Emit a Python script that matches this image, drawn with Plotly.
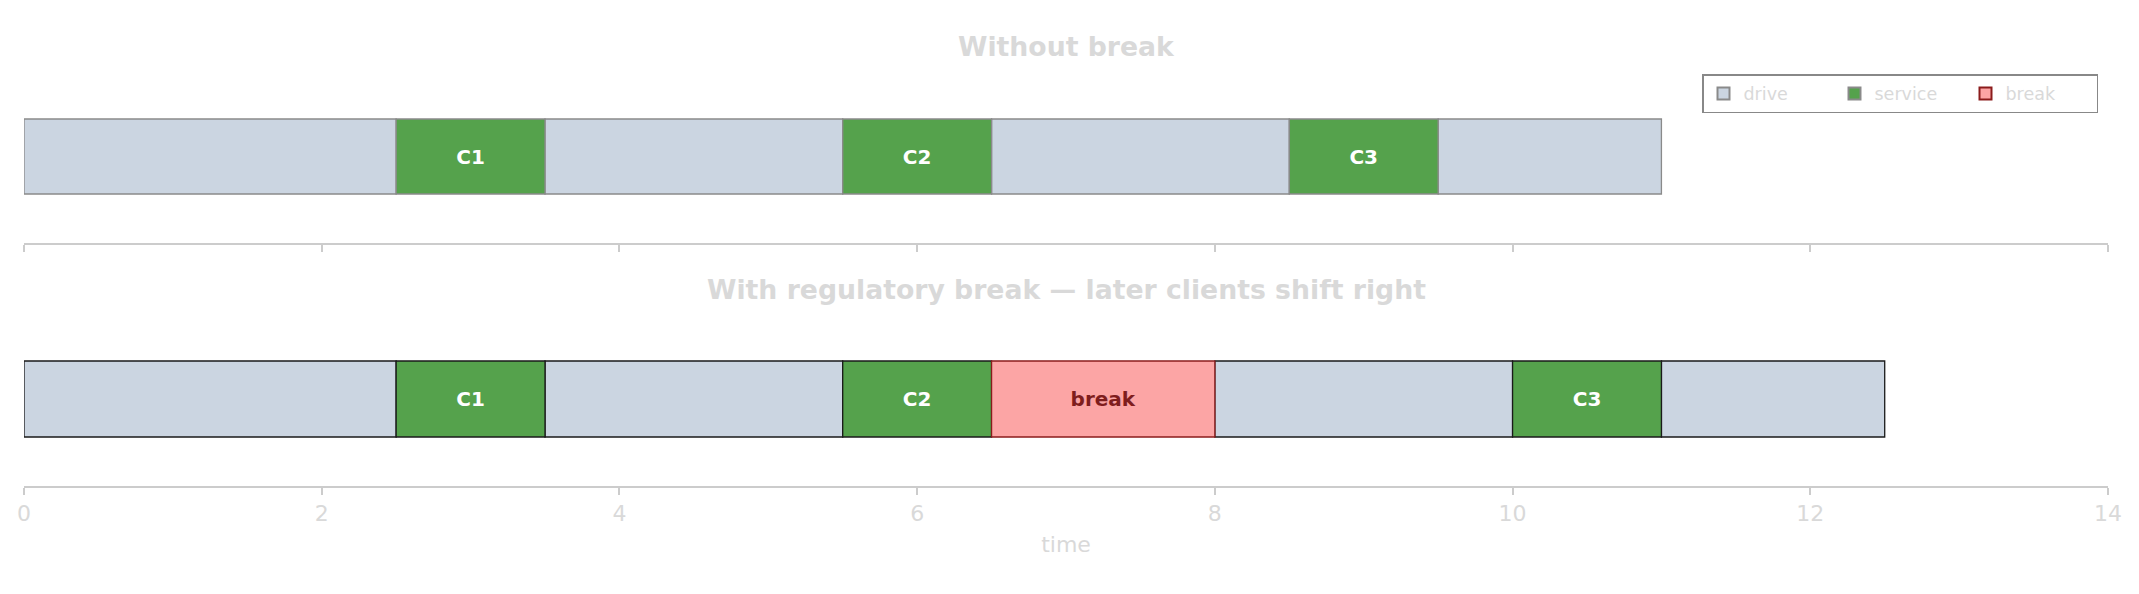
import plotly.graph_objects as go

# ---- data ----
top_kind = ["drive", "service", "drive", "service", "drive", "service", "drive"]
top_start = [0, 2.5, 3.5, 5.5, 6.5, 8.5, 9.5]
top_end = [2.5, 3.5, 5.5, 6.5, 8.5, 9.5, 11]
top_label = ["", "C1", "", "C2", "", "C3", ""]

bot_kind = ["drive", "service", "drive", "service", "break", "drive", "service", "drive"]
bot_start = [0, 2.5, 3.5, 5.5, 6.5, 8, 10, 11]
bot_end = [2.5, 3.5, 5.5, 6.5, 8, 10, 11, 12.5]
bot_label = ["", "C1", "", "C2", "break", "", "C3", ""]

x_ticks = [0, 2, 4, 6, 8, 10, 12, 14]
titles = ["Without break", "With regulatory break — later clients shift right"]

# ---- styles ----
FILL = {"drive": "#cbd5e1", "service": "#55a24c", "break": "#fca5a5"}
TXT = {"drive": "white", "service": "white", "break": "#7f1d1d"}
OFF = 8  # default body margin of the html page
W, H = 2139 - 2 * OFF, 594 - 2 * OFF
FONT = "DejaVu Sans"
GREY_TXT = "#d9d9d9"
AXIS_C = "#cccccc"


def py(px):
    return 1 - (px - OFF) / H


fig = go.Figure()


def add_panel(kinds, starts, ends, labels, xaxis, yaxis, edge):
    for k in ["drive", "service", "break"]:
        idx = [i for i, kk in enumerate(kinds) if kk == k]
        if not idx:
            continue
        fig.add_trace(go.Bar(
            orientation="h",
            y=[0] * len(idx),
            x=[ends[i] - starts[i] for i in idx],
            base=[starts[i] for i in idx],
            width=0.8,
            text=[labels[i] for i in idx],
            textposition="inside",
            insidetextanchor="middle",
            constraintext="none",
            textangle=0,
            textfont=dict(family=FONT, size=20, color=TXT[k], weight="bold"),
            marker=dict(color=FILL[k],
                        line=dict(color=("#8b1c1c" if k == "break" else edge), width=1.3)),
            name=k,
            showlegend=False,
            xaxis=xaxis, yaxis=yaxis,
            hoverinfo="skip",
        ))


add_panel(top_kind, top_start, top_end, top_label, "x", "y", "#8a8a8a")
add_panel(bot_kind, bot_start, bot_end, bot_label, "x2", "y2", "#1a1a1a")

# legend entries
for k, edge in [("drive", "#8a8a8a"), ("service", "#8a8a8a"), ("break", "#8b1c1c")]:
    fig.add_trace(go.Bar(
        orientation="h", y=[None], x=[None], name=k,
        marker=dict(color=FILL[k], line=dict(color=edge, width=2)),
        showlegend=True, xaxis="x", yaxis="y", hoverinfo="skip",
    ))

xcommon = dict(range=[0, 14], tickvals=x_ticks, ticks="outside", ticklen=7,
               tickcolor=AXIS_C, tickwidth=1.5, showline=True, linecolor=AXIS_C,
               linewidth=1.5, showgrid=False, zeroline=False, fixedrange=True,
               tickfont=dict(family=FONT, size=22, color=GREY_TXT))

r1 = 0.8 / 75 * 86.5
r2 = 0.8 / 76 * 87

L, R = 24, 2108  # plot area in reference pixels

fig.update_layout(
    width=W, height=H,
    margin=dict(l=L - OFF, r=2139 - OFF - R, t=0, b=0, autoexpand=False),
    plot_bgcolor="white", paper_bgcolor="white",
    barmode="overlay",
    showlegend=True,
    xaxis=dict(**xcommon, showticklabels=False, anchor="y"),
    yaxis=dict(domain=[py(243), py(70)], range=[-r1, r1], visible=False, fixedrange=True),
    xaxis2=dict(**xcommon, showticklabels=True, anchor="y2",
                title=dict(text="time", standoff=11,
                           font=dict(family=FONT, size=22, color=GREY_TXT))),
    yaxis2=dict(domain=[py(486), py(312)], range=[-r2, r2], visible=False, fixedrange=True),
    legend=dict(orientation="h", x=(2098 - L) / (R - L), xanchor="right", y=py(74), yanchor="top",
                bordercolor="#888888", borderwidth=1.5, bgcolor="white",
                font=dict(family=FONT, size=17.5, color=GREY_TXT),
                entrywidth=86, itemwidth=30, traceorder="normal"),
    annotations=[
        dict(text=f"<b>{titles[0]}</b>", x=0.5, y=py(46), xref="paper", yref="paper",
             showarrow=False, xanchor="center", yanchor="middle",
             font=dict(family=FONT, size=26.7, color=GREY_TXT)),
        dict(text=f"<b>{titles[1]}</b>", x=0.5, y=py(289), xref="paper", yref="paper",
             showarrow=False, xanchor="center", yanchor="middle",
             font=dict(family=FONT, size=26.7, color=GREY_TXT)),
    ],
)

fig.write_html("out.html")
